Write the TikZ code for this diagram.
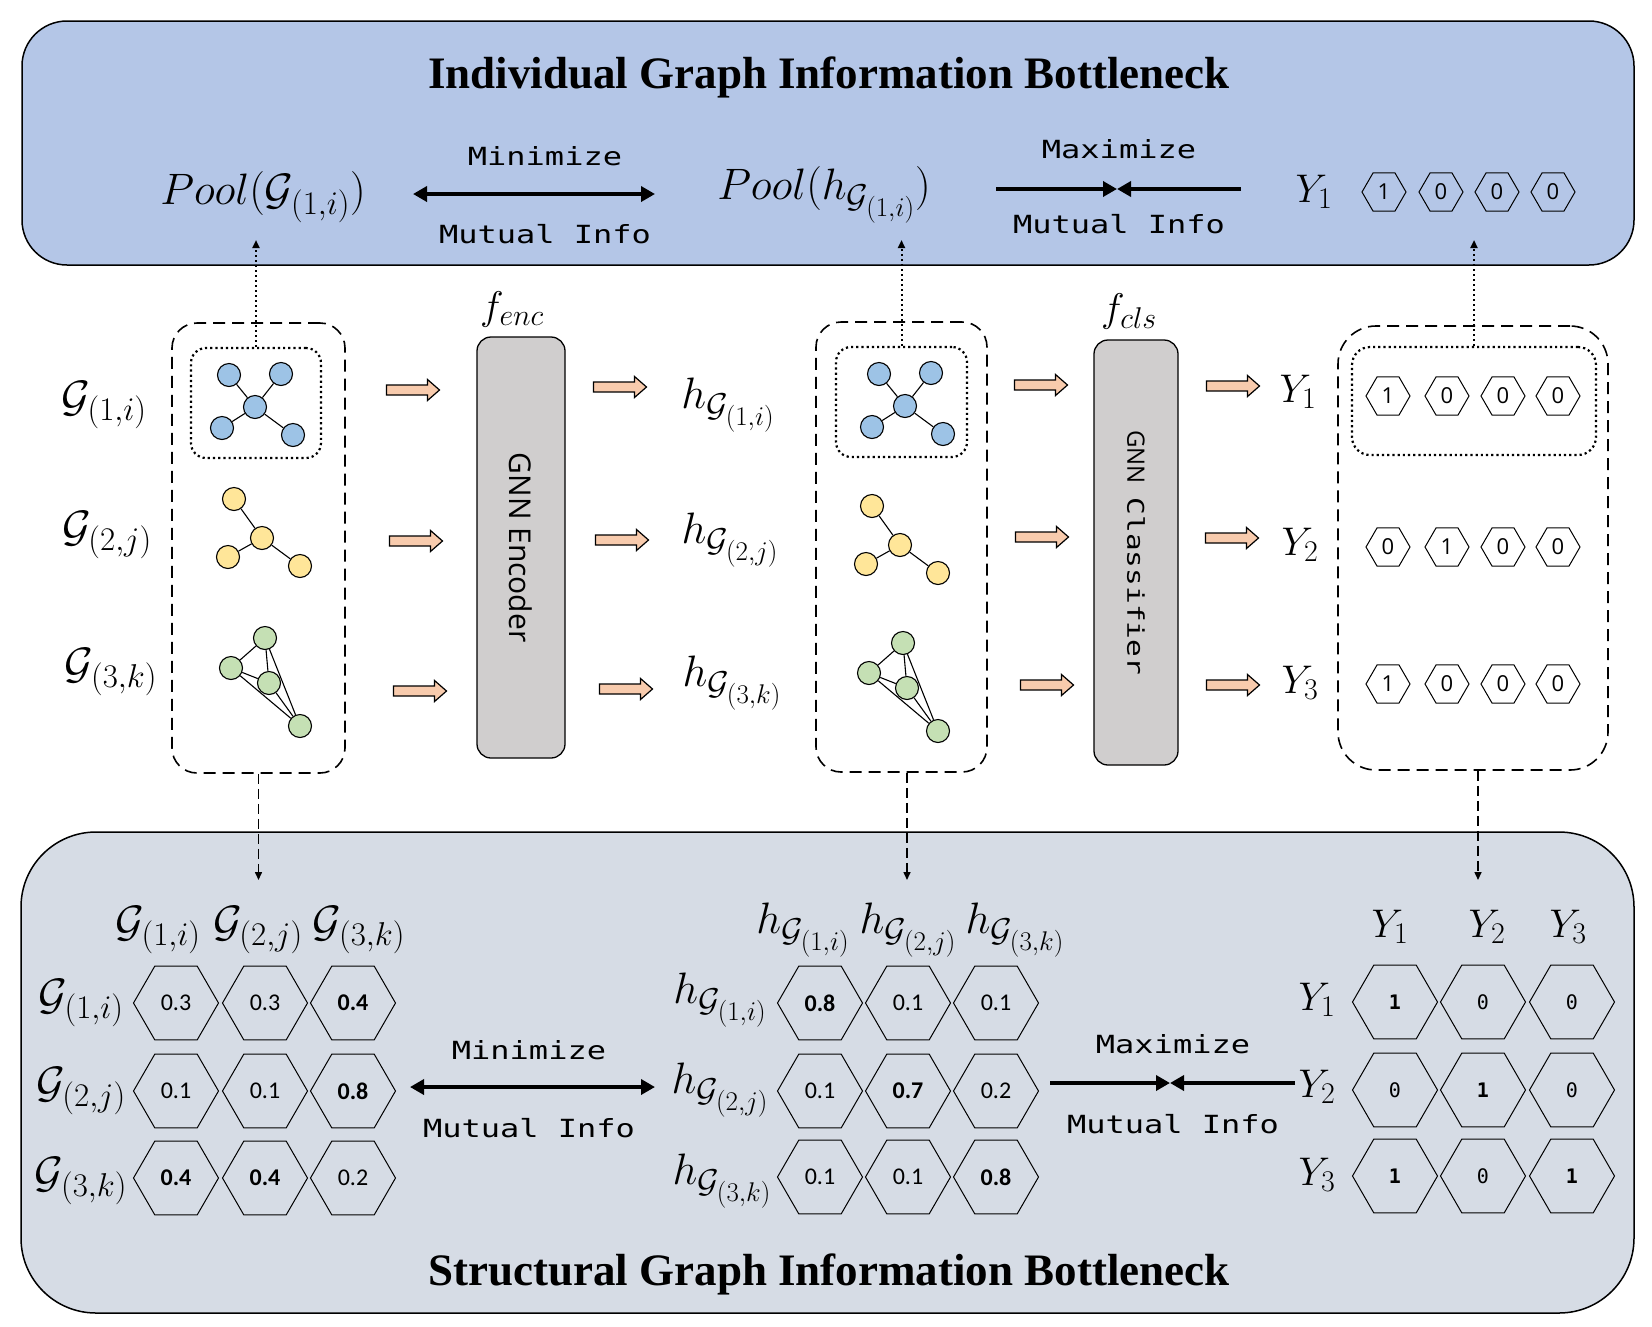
\documentclass[tikz,border=0pt]{standalone}
\usepackage{fix-cm}
\usepackage{fontspec}
\usetikzlibrary{arrows.meta,shapes.geometric}
\newfontfamily\ttlfont{Liberation Serif}
\newfontfamily\mymono[FakeStretch=1.28]{DejaVu Sans Mono}
\newfontfamily\mysans{Open Sans}
\newfontfamily\mycalib{Carlito}
\newfontfamily\mydig{DejaVu Sans Mono}
\DeclareMathSizes{44}{44}{33}{27}
\DeclareMathSizes{40}{40}{30}{24}
\definecolor{topfill}{RGB}{180,198,231}
\definecolor{botfill}{RGB}{214,220,229}
\definecolor{nblue}{RGB}{157,195,230}
\definecolor{nyel}{RGB}{255,230,153}
\definecolor{ngreen}{RGB}{197,224,180}
\definecolor{arrfill}{RGB}{248,203,173}
\definecolor{boxgray}{RGB}{208,206,206}
\newcommand{\mlab}{\fontsize{44}{52}\selectfont}
\newcommand{\ylab}{\fontsize{40}{48}\selectfont}
\newcommand{\bgraph}[3]{%
 \begin{scope}[shift={(#2,#3)}]
  \node[gnode,fill=nblue] (#1c) at (0,0) {};
  \node[gnode,fill=nblue] (#1tl) at (-26,-32) {};
  \node[gnode,fill=nblue] (#1tr) at (26,-33) {};
  \node[gnode,fill=nblue] (#1bl) at (-33,21) {};
  \node[gnode,fill=nblue] (#1br) at (38,28) {};
  \draw[gedge] (#1c) -- (#1tl); \draw[gedge] (#1c) -- (#1tr);
  \draw[gedge] (#1c) -- (#1bl); \draw[gedge] (#1c) -- (#1br);
 \end{scope}}
\newcommand{\ygraph}[3]{%
 \begin{scope}[shift={(#2,#3)}]
  \node[gnode,fill=nyel] (#1c) at (0,0) {};
  \node[gnode,fill=nyel] (#1t) at (-28,-39) {};
  \node[gnode,fill=nyel] (#1l) at (-34,19) {};
  \node[gnode,fill=nyel] (#1r) at (38,28) {};
  \draw[gedge] (#1c) -- (#1t); \draw[gedge] (#1c) -- (#1l); \draw[gedge] (#1c) -- (#1r);
 \end{scope}}
\newcommand{\ggraph}[3]{%
 \begin{scope}[shift={(#2,#3)}]
  \node[gnode,fill=ngreen] (#1t) at (0,0) {};
  \node[gnode,fill=ngreen] (#1l) at (-34,30) {};
  \node[gnode,fill=ngreen] (#1m) at (4,45) {};
  \node[gnode,fill=ngreen] (#1b) at (35,88) {};
  \draw[gedge] (#1t) -- (#1l); \draw[gedge] (#1t) -- (#1m); \draw[gedge] (#1t) -- (#1b);
  \draw[gedge] (#1l) -- (#1m); \draw[gedge] (#1l) -- (#1b); \draw[gedge] (#1m) -- (#1b);
 \end{scope}}
\begin{document}
\begin{tikzpicture}[x=1pt,y=-1pt,
 panel/.style={draw=black, line width=1.5pt},
 dashbox/.style={draw=black, line width=1.6pt, dash pattern=on 12pt off 7pt, rounded corners=25pt},
 dotbox/.style={draw=black, line width=2.2pt, dash pattern=on 2.2pt off 3pt, rounded corners=15pt},
 gnnbox/.style={draw=black, fill=boxgray, line width=1.3pt, rounded corners=14pt, inner sep=0pt},
 gnode/.style={circle, draw=black, line width=1.1pt, minimum size=23pt, inner sep=0pt},
 gedge/.style={line width=1.1pt},
 hexL/.style={draw=black, line width=1pt, regular polygon, regular polygon sides=6, minimum size=85pt, inner sep=0pt, font=\mycalib\fontsize{24}{28}\selectfont},
 hexR/.style={hexL, font=\mydig\fontsize{20}{24}\selectfont},
 hexS/.style={draw=black, line width=1pt, regular polygon, regular polygon sides=6, minimum size=44pt, inner sep=0pt, font=\mysans\fontsize{22}{26}\selectfont},
 mathlab/.style={font=\mlab, inner sep=0pt},
 ylabel/.style={font=\ylab, inner sep=0pt},
 monotxt/.style={font=\mymono\fontsize{25}{30}\selectfont, anchor=base, inner sep=0pt},
 titletxt/.style={font=\ttlfont\bfseries\fontsize{45}{54}\selectfont, anchor=base, inner sep=0pt},
 thickarr/.style={line width=4pt},
 tipT/.tip={Triangle[length=14pt,width=15pt]},
 dotarr/.style={line width=2pt, dash pattern=on 2pt off 3pt, -{Triangle[length=8pt,width=7pt]}},
 dasharr/.style={line width=1.5pt, dash pattern=on 10pt off 5pt, -{Triangle[length=8pt,width=7pt]}},
 blockarr/.pic={\draw[line width=1.2pt, fill=arrfill, line join=miter] (-26.5,-5) -- (14.5,-5) -- (14.5,-10.5) -- (26.5,0) -- (14.5,10.5) -- (14.5,5) -- (-26.5,5) -- cycle;}
]
\useasboundingbox (0,0) rectangle (1652,1326);
\fill[white] (0,0) rectangle (1652,1326);

% ---------- panels ----------
\node[panel, fill=topfill, rounded corners=45pt, minimum width=1612pt, minimum height=244pt] (toppanel) at (828,143) {};
\node[panel, fill=botfill, rounded corners=75pt, minimum width=1613pt, minimum height=481pt] (botpanel) at (827.5,1072.5) {};

\node[titletxt] (ttop) at (829,88) {Individual Graph Information Bottleneck};
\node[titletxt] (tbot) at (829,1285) {Structural Graph Information Bottleneck};

% ---------- top panel ----------
\node[mathlab] (poolG) at (263,197) {$Pool(\mathcal{G}_{(1,i)})$};
\node[mathlab] (poolh) at (824,195) {$Pool(h_{\mathcal{G}_{(1,i)}})$};
\node[ylabel] (ytop) at (1314,192) {$Y_1$};
\node[hexS] (t1) at (1384,192) {1};
\node[hexS] (t2) at (1441,192) {0};
\node[hexS] (t3) at (1497,192) {0};
\node[hexS] (t4) at (1553,192) {0};

\node[monotxt] (tmin) at (545,165) {Minimize};
\node[monotxt] (tmi1) at (545,243) {Mutual Info};
\node[monotxt] (tmax) at (1119,158) {Maximize};
\node[monotxt] (tmi2) at (1119,233) {Mutual Info};
\coordinate (tminL) at (413,194);
\coordinate (tminR) at (655,194);
\draw[thickarr, tipT-tipT] (tminL) -- (tminR);
\coordinate (tmaxL) at (996,189);
\coordinate (tmaxM) at (1117,189);
\coordinate (tmaxR) at (1241,189);
\draw[thickarr, -tipT] (tmaxL) -- (tmaxM);
\draw[thickarr, -tipT] (tmaxR) -- (tmaxM);

% ---------- middle row ----------
\node[mathlab] (gl1) at (104,405) {$\mathcal{G}_{(1,i)}$};
\node[mathlab] (gl2) at (107,535) {$\mathcal{G}_{(2,j)}$};
\node[mathlab] (gl3) at (111,672) {$\mathcal{G}_{(3,k)}$};

\node[dashbox, minimum width=173pt, minimum height=450pt] (ldash) at (258.5,548) {};
\node[dotbox, minimum width=130pt, minimum height=110pt] (ldot) at (256,403) {};
\bgraph{lb}{255}{407}
\ygraph{ly}{262}{538}
\ggraph{lg}{265}{638}

\pic (a11) at (413,390) {blockarr};
\pic (a12) at (416,541) {blockarr};
\pic (a13) at (420,691) {blockarr};

\node[gnnbox, rotate=-90, minimum width=421pt, minimum height=88pt] (enc) at (521,547.5) {\mysans\fontsize{30}{36}\selectfont GNN Encoder};
\node[ylabel] (fenc) at (512,309) {$f_{enc}$};

\pic (a21) at (620,387) {blockarr};
\pic (a22) at (622,540) {blockarr};
\pic (a23) at (626,689) {blockarr};

\node[mathlab] (hl1) at (728,405) {$h_{\mathcal{G}_{(1,i)}}$};
\node[mathlab] (hl2) at (730,540) {$h_{\mathcal{G}_{(2,j)}}$};
\node[mathlab] (hl3) at (732,683) {$h_{\mathcal{G}_{(3,k)}}$};

\node[dashbox, minimum width=171pt, minimum height=450pt] (mdash) at (901.5,547) {};
\node[dotbox, minimum width=131pt, minimum height=110pt] (mdot) at (901.5,402) {};
\bgraph{mb}{905}{406}
\ygraph{my}{900}{545}
\ggraph{mg}{903}{643}

\pic (a31) at (1041,385) {blockarr};
\pic (a32) at (1042,537) {blockarr};
\pic (a33) at (1047,685) {blockarr};

\node[gnnbox, rotate=-90, minimum width=425pt, minimum height=84pt] (cls) at (1136,552.5) {{\mysans\fontsize{24}{30}\selectfont GNN}\hspace{14pt}{\mymono\fontsize{23}{30}\selectfont Classifier}};
\node[ylabel] (fcls) at (1129,311) {$f_{cls}$};

\pic (a41) at (1233,386) {blockarr};
\pic (a42) at (1232,538) {blockarr};
\pic (a43) at (1233,685) {blockarr};

\node[ylabel] (yl1) at (1298,392) {$Y_1$};
\node[ylabel] (yl2) at (1300,545) {$Y_2$};
\node[ylabel] (yl3) at (1300,683) {$Y_3$};

\node[dashbox, rounded corners=38pt, minimum width=270pt, minimum height=444pt] (rdash) at (1473,548) {};
\node[dotbox, rounded corners=18pt, minimum width=244pt, minimum height=108pt] (rdot) at (1474,401) {};
\node[hexS] (r11) at (1388,396) {1};
\node[hexS] (r12) at (1447,396) {0};
\node[hexS] (r13) at (1503,396) {0};
\node[hexS] (r14) at (1558,396) {0};
\node[hexS] (r21) at (1388,547) {0};
\node[hexS] (r22) at (1447,547) {1};
\node[hexS] (r23) at (1503,547) {0};
\node[hexS] (r24) at (1558,547) {0};
\node[hexS] (r31) at (1388,684) {1};
\node[hexS] (r32) at (1447,684) {0};
\node[hexS] (r33) at (1503,684) {0};
\node[hexS] (r34) at (1558,684) {0};

% ---------- vertical connectors ----------
\coordinate (upL) at (256,240);
\coordinate (upM) at (901.5,240);
\coordinate (upR) at (1474,240);
\draw[dotarr] (ldot.north) -- (upL);
\draw[dotarr] (mdot.north) -- (upM);
\draw[dotarr] (rdot.north) -- (upR);
\coordinate (dnL) at (258.5,880);
\coordinate (dnM) at (907,880);
\coordinate (dnR) at (1478,880);
\draw[dasharr] (ldash.south) -- (dnL);
\draw[dasharr] (mdash.south -| dnM) -- (dnM);
\draw[dasharr] (rdash.south -| dnR) -- (dnR);

% ---------- bottom panel: left matrix ----------
\node[mathlab] (lh1) at (158,930) {$\mathcal{G}_{(1,i)}$};
\node[mathlab] (lh2) at (258,930) {$\mathcal{G}_{(2,j)}$};
\node[mathlab] (lh3) at (359,930) {$\mathcal{G}_{(3,k)}$};
\node[mathlab] (lr1) at (81,1003) {$\mathcal{G}_{(1,i)}$};
\node[mathlab] (lr2) at (81,1091) {$\mathcal{G}_{(2,j)}$};
\node[mathlab] (lr3) at (81,1181) {$\mathcal{G}_{(3,k)}$};
\node[hexL] (l11) at (176,1003) {0.3};
\node[hexL] (l12) at (265,1003) {0.3};
\node[hexL] (l13) at (353,1003) {\bfseries 0.4};
\node[hexL] (l21) at (176,1091) {0.1};
\node[hexL] (l22) at (265,1091) {0.1};
\node[hexL] (l23) at (353,1091) {\bfseries 0.8};
\node[hexL] (l31) at (176,1178) {\bfseries 0.4};
\node[hexL] (l32) at (265,1178) {\bfseries 0.4};
\node[hexL] (l33) at (353,1178) {0.2};

\node[monotxt] (bmin) at (529,1059) {Minimize};
\node[monotxt] (bmi1) at (529,1137) {Mutual Info};
\coordinate (bminL) at (410,1087);
\coordinate (bminR) at (655,1087);
\draw[thickarr, tipT-tipT] (bminL) -- (bminR);

% ---------- middle matrix ----------
\node[mathlab] (mh1) at (803,930) {$h_{\mathcal{G}_{(1,i)}}$};
\node[mathlab] (mh2) at (908,930) {$h_{\mathcal{G}_{(2,j)}}$};
\node[mathlab] (mh3) at (1015,930) {$h_{\mathcal{G}_{(3,k)}}$};
\node[mathlab] (mr1) at (720,1000) {$h_{\mathcal{G}_{(1,i)}}$};
\node[mathlab] (mr2) at (720,1090) {$h_{\mathcal{G}_{(2,j)}}$};
\node[mathlab] (mr3) at (722,1181) {$h_{\mathcal{G}_{(3,k)}}$};
\node[hexL] (m11) at (820,1003) {\bfseries 0.8};
\node[hexL] (m12) at (908,1003) {0.1};
\node[hexL] (m13) at (996,1003) {0.1};
\node[hexL] (m21) at (820,1091) {0.1};
\node[hexL] (m22) at (908,1091) {\bfseries 0.7};
\node[hexL] (m23) at (996,1091) {0.2};
\node[hexL] (m31) at (820,1177) {0.1};
\node[hexL] (m32) at (908,1177) {0.1};
\node[hexL] (m33) at (996,1177) {\bfseries 0.8};

\node[monotxt] (bmax) at (1173,1053) {Maximize};
\node[monotxt] (bmi2) at (1173,1133) {Mutual Info};
\coordinate (bmaxL) at (1050,1083);
\coordinate (bmaxM) at (1170,1083);
\coordinate (bmaxR) at (1295,1083);
\draw[thickarr, -tipT] (bmaxL) -- (bmaxM);
\draw[thickarr, -tipT] (bmaxR) -- (bmaxM);

% ---------- right matrix ----------
\node[ylabel] (rh1) at (1390,927) {$Y_1$};
\node[ylabel] (rh2) at (1487,927) {$Y_2$};
\node[ylabel] (rh3) at (1568,927) {$Y_3$};
\node[ylabel] (rr1) at (1317,1000) {$Y_1$};
\node[ylabel] (rr2) at (1317,1087) {$Y_2$};
\node[ylabel] (rr3) at (1317,1175) {$Y_3$};
\node[hexR] (q11) at (1395,1002) {\bfseries 1};
\node[hexR] (q12) at (1483,1002) {0};
\node[hexR] (q13) at (1572,1002) {0};
\node[hexR] (q21) at (1395,1090) {0};
\node[hexR] (q22) at (1483,1090) {\bfseries 1};
\node[hexR] (q23) at (1572,1090) {0};
\node[hexR] (q31) at (1395,1176) {\bfseries 1};
\node[hexR] (q32) at (1483,1176) {0};
\node[hexR] (q33) at (1572,1176) {\bfseries 1};
\end{tikzpicture}
\end{document}
